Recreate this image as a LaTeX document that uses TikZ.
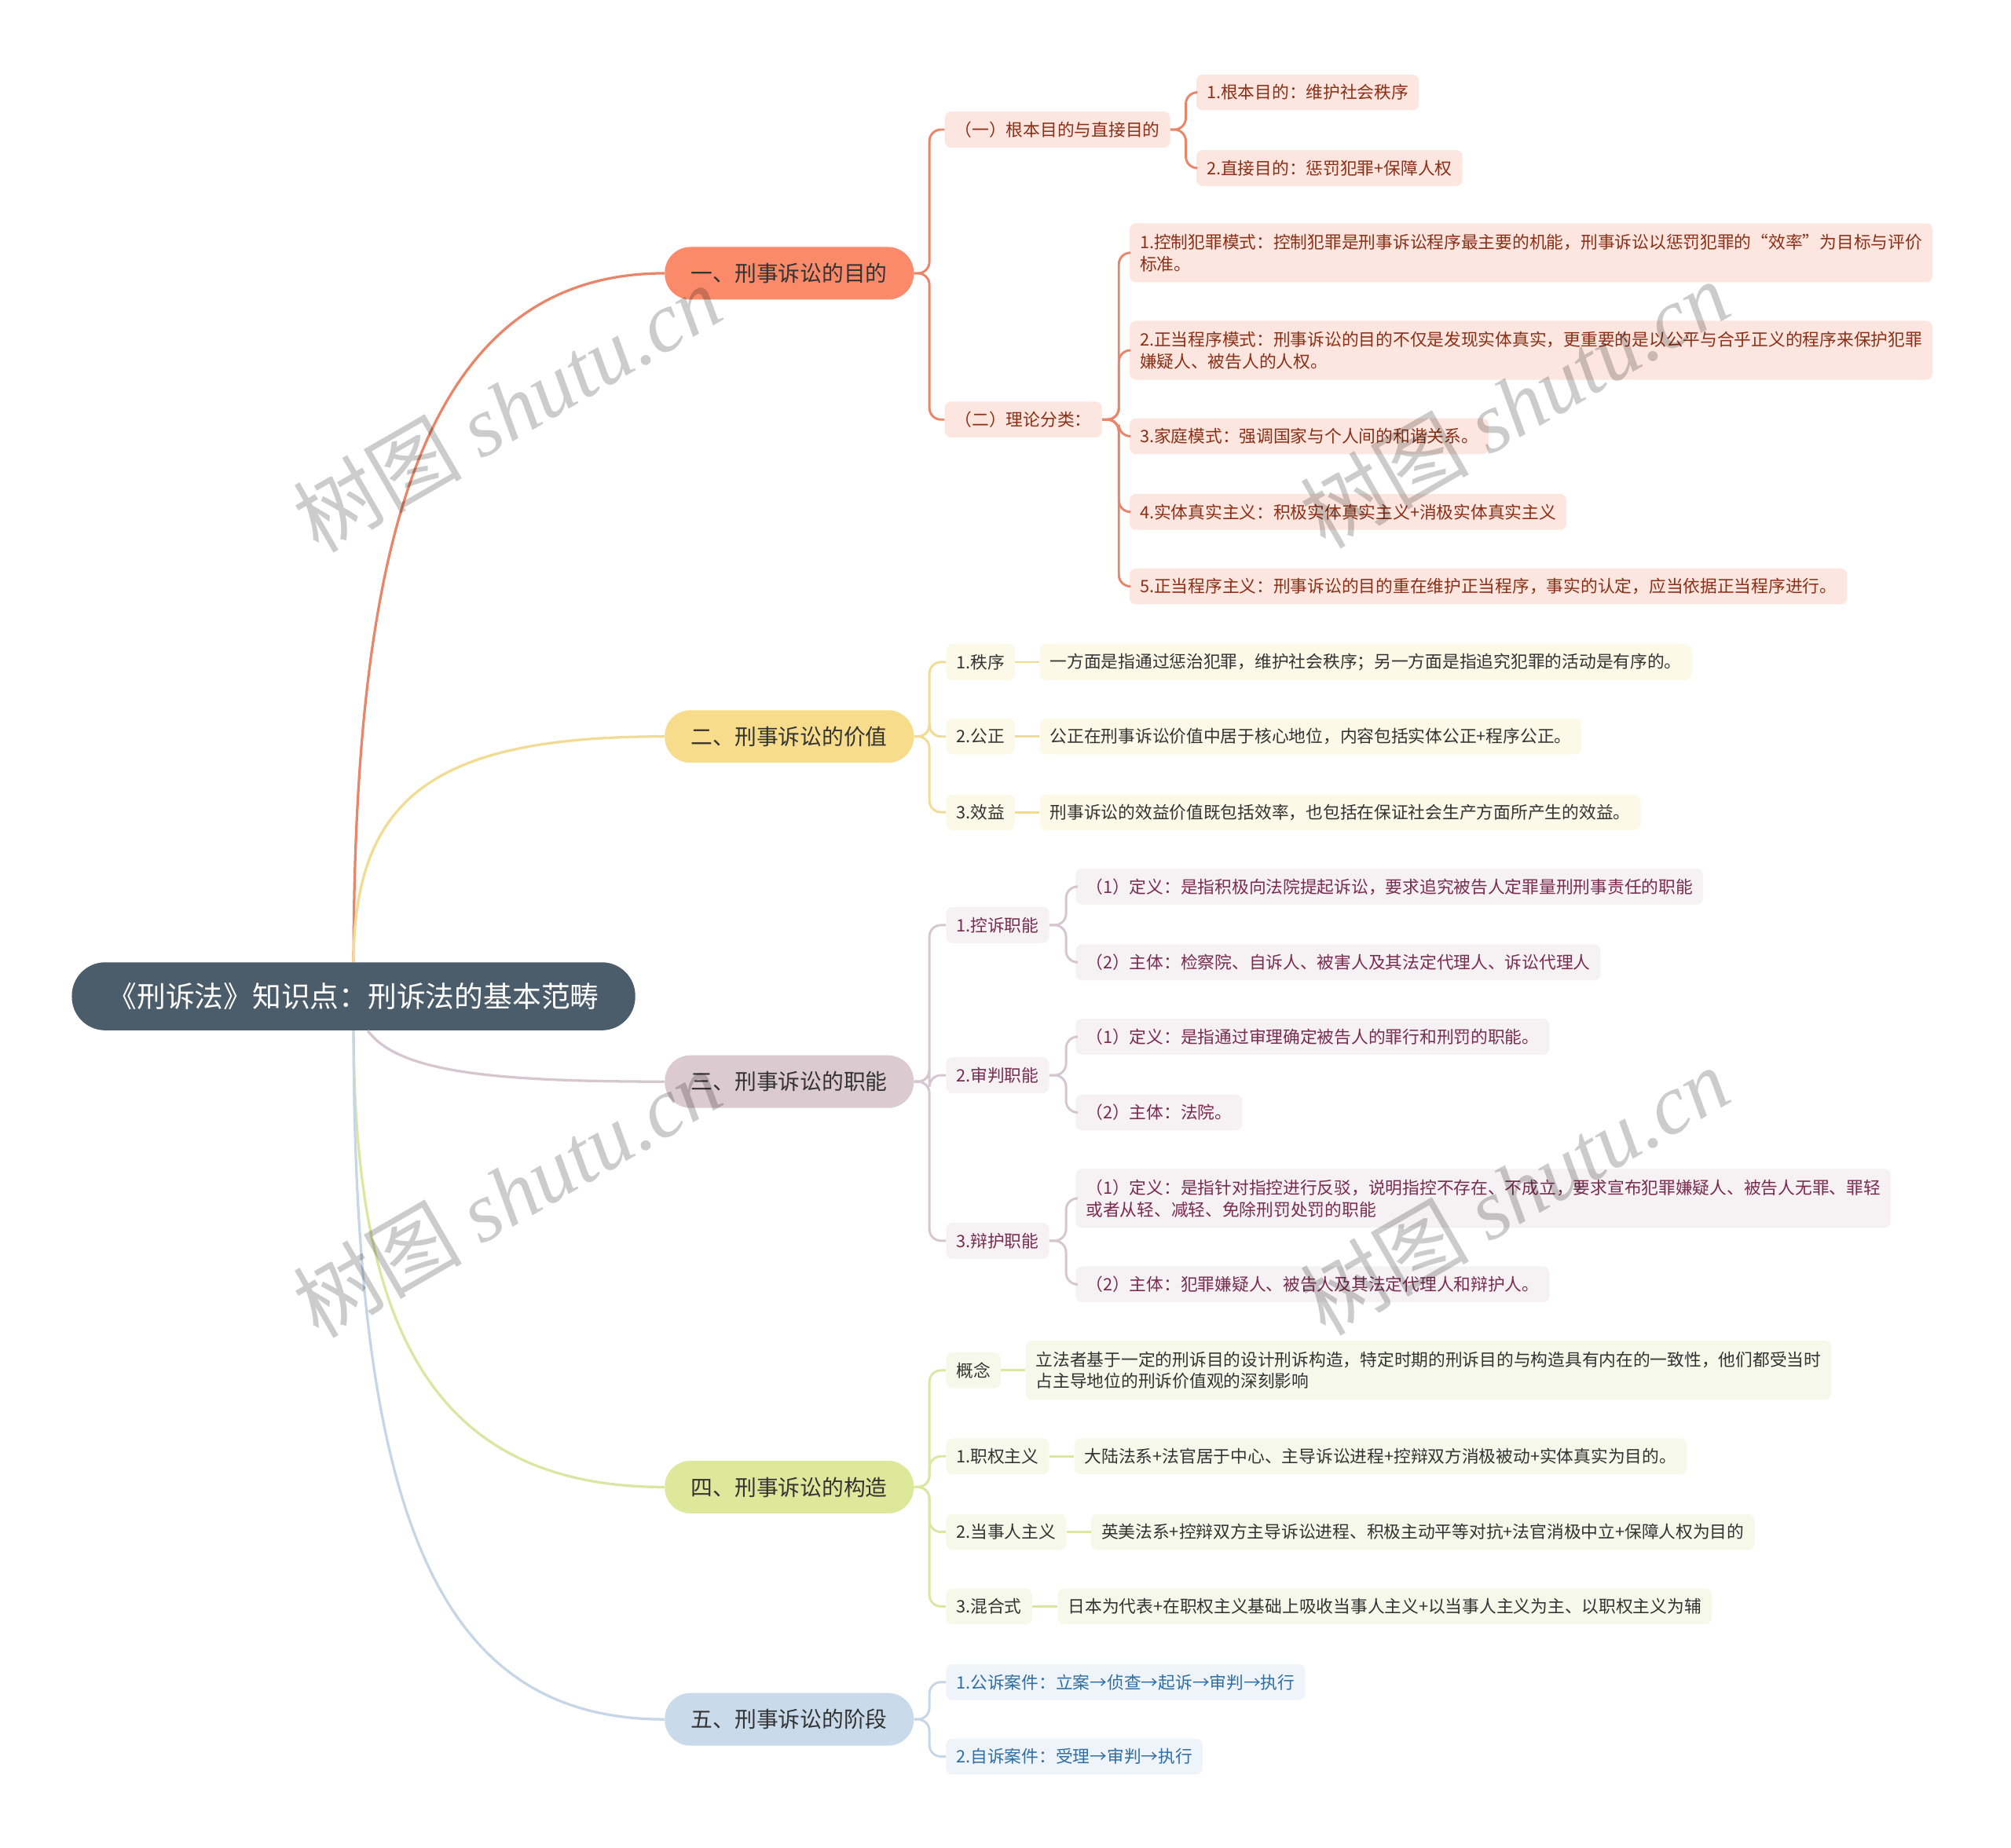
\documentclass[tikz,border=0pt]{standalone}
\usepackage{fontspec}
\setmainfont{Noto Sans CJK SC}
\newfontfamily\wmlatin{Liberation Serif}
\usetikzlibrary{calc}
\definecolor{rootfill}{HTML}{4B5C6B}
\definecolor{maintext}{HTML}{333333}
\definecolor{mAfill}{HTML}{FA8A6A}\definecolor{mAline}{HTML}{E9866A}
\definecolor{lAfill}{HTML}{FDE6DF}\definecolor{lAtext}{HTML}{8C2F16}
\definecolor{mBfill}{HTML}{F7DD8B}\definecolor{mBline}{HTML}{F2DC94}
\definecolor{lBfill}{HTML}{FDF9E8}\definecolor{lBtext}{HTML}{333333}
\definecolor{mCfill}{HTML}{DCCAD1}\definecolor{mCline}{HTML}{D6C6CD}
\definecolor{lCfill}{HTML}{F6F1F3}\definecolor{lCtext}{HTML}{7A2B50}
\definecolor{mDfill}{HTML}{DDE89B}\definecolor{mDline}{HTML}{DAE6A2}
\definecolor{lDfill}{HTML}{F6F8EA}\definecolor{lDtext}{HTML}{333333}
\definecolor{mEfill}{HTML}{C9DAEA}\definecolor{mEline}{HTML}{C6D6E6}
\definecolor{lEfill}{HTML}{EEF4F9}\definecolor{lEtext}{HTML}{2F6EA5}
\begin{document}
\begin{tikzpicture}[x=1pt,y=-1pt,
  rootbox/.style={fill=rootfill,text=white,rounded corners=26pt,minimum width=439pt,minimum height=53pt,inner sep=0pt,font=\fontsize{22.5}{26}\selectfont},
  mainbox/.style={rounded corners=20pt,minimum width=194pt,minimum height=41pt,inner sep=0pt,text=maintext,font=\fontsize{17}{20}\selectfont},
  leaf/.style={rounded corners=5pt,inner xsep=8pt,inner ysep=0pt,minimum height=28pt,anchor=west,align=left,font=\fontsize{13.3}{17}\selectfont},
  leafA/.style={leaf,fill=lAfill,text=lAtext},
  leafB/.style={leaf,fill=lBfill,text=lBtext},
  leafC/.style={leaf,fill=lCfill,text=lCtext},
  leafD/.style={leaf,fill=lDfill,text=lDtext},
  leafE/.style={leaf,fill=lEfill,text=lEtext},
  tall/.style={minimum height=46pt},
  conn/.style={line width=1.8pt,rounded corners=9pt},
  watermark/.style={rotate=30,text=black,text opacity=0.2,font=\fontsize{66}{70}\selectfont,inner sep=0pt}
]
\useasboundingbox (0,0) rectangle (1567,1439.7);
\clip (0,0) rectangle (1567,1439.7);

% root and main branches
\node[rootbox] (root) at (275.5,776.5) {《刑诉法》知识点：刑诉法的基本范畴};
\node[mainbox,fill=mAfill] (m1) at (615,213) {一、刑事诉讼的目的};
\node[mainbox,fill=mBfill] (m2) at (615,574) {二、刑事诉讼的价值};
\node[mainbox,fill=mCfill] (m3) at (615,843) {三、刑事诉讼的职能};
\node[mainbox,fill=mDfill] (m4) at (615,1159) {四、刑事诉讼的构造};
\node[mainbox,fill=mEfill] (m5) at (615,1340) {五、刑事诉讼的阶段};

\draw[mAline,line width=2pt] (root.north) .. controls (276,420) and (330,213) .. (m1.west);
\draw[mBline,line width=2pt] (root.north) .. controls (276,620) and (340,574) .. (m2.west);
\draw[mCline,line width=2pt] ($(root.south)+(11,0)$) .. controls (310,835) and (380,843) .. (m3.west);
\draw[mDline,line width=2pt] (root.south) .. controls (276,1040) and (340,1159) .. (m4.west);
\draw[mEline,line width=2pt] (root.south) .. controls (276,1180) and (340,1340) .. (m5.west);

% branch 1
\node[leafA] (a1) at (736,101) {（一）根本目的与直接目的};
\node[leafA] (a2) at (736,327) {（二）理论分类：};
\node[leafA] (a11) at (932,72) {1.根本目的：维护社会秩序};
\node[leafA] (a12) at (932,131) {2.直接目的：惩罚犯罪+保障人权};
\node[leafA,tall] (a21) at (880,197) {1.控制犯罪模式：控制犯罪是刑事诉讼程序最主要的机能，刑事诉讼以惩罚犯罪的“效率”为目标与评价\\标准。};
\node[leafA,tall] (a22) at (880,273) {2.正当程序模式：刑事诉讼的目的不仅是发现实体真实，更重要的是以公平与合乎正义的程序来保护犯罪\\嫌疑人、被告人的人权。};
\node[leafA] (a23) at (880,340) {3.家庭模式：强调国家与个人间的和谐关系。};
\node[leafA] (a24) at (880,399) {4.实体真实主义：积极实体真实主义+消极实体真实主义};
\node[leafA] (a25) at (880,457) {5.正当程序主义：刑事诉讼的目的重在维护正当程序，事实的认定，应当依据正当程序进行。};
\foreach \c in {a1,a2} \draw[conn,mAline] (m1.east) -- ++(12,0) |- (\c.west);
\foreach \c in {a11,a12} \draw[conn,mAline] (a1.east) -- ++(12,0) |- (\c.west);
\foreach \c in {a21,a22,a23,a24,a25} \draw[conn,mAline] (a2.east) -- ++(13,0) |- (\c.west);

% branch 2
\node[leafB] (b1) at (737,516) {1.秩序};
\node[leafB] (b2) at (737,574) {2.公正};
\node[leafB] (b3) at (737,633) {3.效益};
\node[leafB] (bd1) at (810,516) {一方面是指通过惩治犯罪，维护社会秩序；另一方面是指追究犯罪的活动是有序的。};
\node[leafB] (bd2) at (810,574) {公正在刑事诉讼价值中居于核心地位，内容包括实体公正+程序公正。};
\node[leafB] (bd3) at (810,633) {刑事诉讼的效益价值既包括效率，也包括在保证社会生产方面所产生的效益。};
\foreach \c in {b1,b2,b3} \draw[conn,mBline] (m2.east) -- ++(12,0) |- (\c.west);
\draw[conn,mBline] (b1.east) -- (bd1.west);
\draw[conn,mBline] (b2.east) -- (bd2.west);
\draw[conn,mBline] (b3.east) -- (bd3.west);

% branch 3
\node[leafC] (c1) at (737,721) {1.控诉职能};
\node[leafC] (c2) at (737,838) {2.审判职能};
\node[leafC] (c3) at (737,967) {3.辩护职能};
\node[leafC] (c11) at (838,691) {（1）定义：是指积极向法院提起诉讼，要求追究被告人定罪量刑刑事责任的职能};
\node[leafC] (c12) at (838,750) {（2）主体：检察院、自诉人、被害人及其法定代理人、诉讼代理人};
\node[leafC] (c21) at (838,808) {（1）定义：是指通过审理确定被告人的罪行和刑罚的职能。};
\node[leafC] (c22) at (838,867) {（2）主体：法院。};
\node[leafC,tall] (c31) at (838,934) {（1）定义：是指针对指控进行反驳，说明指控不存在、不成立，要求宣布犯罪嫌疑人、被告人无罪、罪轻\\或者从轻、减轻、免除刑罚处罚的职能};
\node[leafC] (c32) at (838,1001) {（2）主体：犯罪嫌疑人、被告人及其法定代理人和辩护人。};
\foreach \c in {c1,c2,c3} \draw[conn,mCline] (m3.east) -- ++(12,0) |- (\c.west);
\foreach \c in {c11,c12} \draw[conn,mCline] (c1.east) -- ++(13,0) |- (\c.west);
\foreach \c in {c21,c22} \draw[conn,mCline] (c2.east) -- ++(13,0) |- (\c.west);
\foreach \c in {c31,c32} \draw[conn,mCline] (c3.east) -- ++(13,0) |- (\c.west);

% branch 4
\node[leafD] (d0) at (737,1068) {概念};
\node[leafD] (d1) at (737,1135) {1.职权主义};
\node[leafD] (d2) at (737,1194) {2.当事人主义};
\node[leafD] (d3) at (737,1252) {3.混合式};
\node[leafD,tall] (dd0) at (799,1068) {立法者基于一定的刑诉目的设计刑诉构造，特定时期的刑诉目的与构造具有内在的一致性，他们都受当时\\占主导地位的刑诉价值观的深刻影响};
\node[leafD] (dd1) at (837,1135) {大陆法系+法官居于中心、主导诉讼进程+控辩双方消极被动+实体真实为目的。};
\node[leafD] (dd2) at (850,1194) {英美法系+控辩双方主导诉讼进程、积极主动平等对抗+法官消极中立+保障人权为目的};
\node[leafD] (dd3) at (824,1252) {日本为代表+在职权主义基础上吸收当事人主义+以当事人主义为主、以职权主义为辅};
\foreach \c in {d0,d1,d2,d3} \draw[conn,mDline] (m4.east) -- ++(12,0) |- (\c.west);
\draw[conn,mDline] (d0.east) -- (dd0.west);
\draw[conn,mDline] (d1.east) -- (dd1.west);
\draw[conn,mDline] (d2.east) -- (dd2.west);
\draw[conn,mDline] (d3.east) -- (dd3.west);

% branch 5
\node[leafE] (e1) at (737,1311) {1.公诉案件：立案→侦查→起诉→审判→执行};
\node[leafE] (e2) at (737,1369) {2.自诉案件：受理→审判→执行};
\foreach \c in {e1,e2} \draw[conn,mEline] (m5.east) -- ++(12,0) |- (\c.west);

% watermarks
\foreach \wx/\wy [count=\i] in {395/318,1180/315,395/930,1180/928,395/1542,1180/1540}
  \node[watermark] (wm\i) at (\wx,\wy) {树图 {\wmlatin\itshape shutu.cn}};
\end{tikzpicture}
\end{document}
